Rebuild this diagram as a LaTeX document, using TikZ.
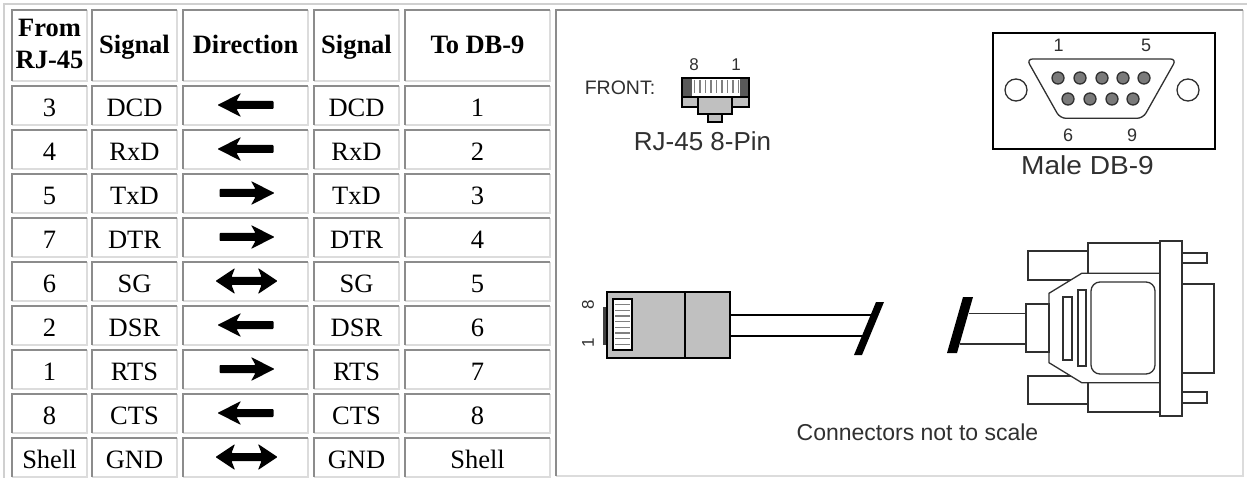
\documentclass[tikz,border=0pt]{standalone}
\usepackage{fontspec}
\setmainfont{Liberation Serif}
\newfontfamily\arialf{Liberation Sans}
\definecolor{cellgray}{HTML}{8C8C8C}
\definecolor{celllight}{HTML}{DCDCDC}
\definecolor{outerlight}{HTML}{D0D0D0}
\definecolor{rjgray}{HTML}{C0C0C0}
\definecolor{pingray}{HTML}{7A7A7A}
\definecolor{inkgray}{HTML}{303030}
\newcommand\cellbox[4]{%
  \draw[cellhi] (#1,#4) -- (#3,#4) -- (#3,#2);
  \draw[cellsh] (#1,#4) -- (#1,#2) -- (#3,#2);
}
\newcommand\tabrow[6]{%
  \pgfmathsetmacro\rt{86+44*(#1-1)}
  \pgfmathsetmacro\rb{\rt+39}
  \pgfmathsetmacro\rbase{\rt+30.5}
  \pgfmathsetmacro\rmid{\rt+19}
  \cellbox{12}{\rt}{87}{\rb}
  \cellbox{92}{\rt}{177}{\rb}
  \cellbox{183}{\rt}{308}{\rb}
  \cellbox{314}{\rt}{399}{\rb}
  \cellbox{405}{\rt}{550}{\rb}
  \node[tcell] (r#1c1) at (49.5,\rbase) {#2};
  \node[tcell] (r#1c2) at (134.5,\rbase) {#3};
  \node[tcell] (r#1c4) at (356.5,\rbase) {#5};
  \node[tcell] (r#1c5) at (477.5,\rbase) {#6};
  \coordinate (r#1al) at (218,\rmid);
  \pic at (r#1al) {#4};
}
\begin{document}
\begin{tikzpicture}[x=1pt,y=-1pt,
  cellsh/.style={draw=cellgray, line width=1.3pt},
  cellhi/.style={draw=celllight, line width=1.3pt},
  tcell/.style={font=\fontsize{26.5}{30}\selectfont, anchor=base, inner sep=0pt},
  thead/.style={font=\bfseries\fontsize{26.5}{31.6}\selectfont, anchor=base, inner sep=0pt, align=center},
  arrL/.pic={\fill[black, rounded corners=0.8pt] (-0.5,0) -- (23,-12) -- (18.5,-4) -- (55.5,-4) -- (55.5,4) -- (18.5,4) -- (23,12) -- cycle;},
  arrR/.pic={\fill[black, rounded corners=0.8pt] (56.5,0) -- (33,-12) -- (37.5,-4) -- (1.5,-4) -- (1.5,4) -- (37.5,4) -- (33,12) -- cycle;},
  arrB/.pic={\fill[black, rounded corners=0.8pt] (-2.5,0) -- (17,-13) -- (13.5,-4) -- (43.5,-4) -- (40,-13) -- (59.5,0) -- (40,13) -- (43.5,4) -- (13.5,4) -- (17,13) -- cycle;},
  lbl/.style={font=\arialf\fontsize{#1}{#1}\selectfont, text=inkgray, anchor=base, inner sep=0pt},
  ink/.style={draw=inkgray, line width=1.3pt},
  blk/.style={draw=black, line width=1.5pt}
]
\useasboundingbox (0,0) rectangle (1247,478);
\fill[white] (0,0) rectangle (1247,478);
% outer table border
\draw[draw=outerlight, line width=2pt] (4,478) -- (4,4) -- (1247,4);
% header
\cellbox{12}{10}{87}{81}
\cellbox{92}{10}{177}{81}
\cellbox{183}{10}{308}{81}
\cellbox{314}{10}{399}{81}
\cellbox{405}{10}{550}{81}
\node[thead] (h1a) at (49.5,36.7) {From};
\node[thead] (h1b) at (49.5,68.3) {RJ-45};
\node[thead] (h2) at (134.5,53.5) {Signal};
\node[thead] (h3) at (245.5,53.5) {Direction};
\node[thead] (h4) at (356.5,53.5) {Signal};
\node[thead] (h5) at (477.5,53.5) {To DB-9};
% rows
\tabrow{1}{3}{DCD}{arrL}{DCD}{1}
\tabrow{2}{4}{RxD}{arrL}{RxD}{2}
\tabrow{3}{5}{TxD}{arrR}{TxD}{3}
\tabrow{4}{7}{DTR}{arrR}{DTR}{4}
\tabrow{5}{6}{SG}{arrB}{SG}{5}
\tabrow{6}{2}{DSR}{arrL}{DSR}{6}
\tabrow{7}{1}{RTS}{arrR}{RTS}{7}
\tabrow{8}{8}{CTS}{arrL}{CTS}{8}
\tabrow{9}{Shell}{GND}{arrB}{GND}{Shell}
% image cell
\cellbox{556}{10}{1243}{476}

% ---- RJ-45 front view
\node[lbl=19.5] (front) at (620,95) {FRONT:};
\node[lbl=17] (f8) at (694,71) {8};
\node[lbl=17] (f1) at (736,71) {1};
\draw[blk, fill=white] (682,78) rectangle (749,97);
\fill[black!65] (682.8,78.8) rectangle (692,96.2);
\fill[black!65] (740,78.8) rectangle (748.2,96.2);
\foreach \k in {0,...,8} \draw[gray, line width=1.2pt] (694.5+\k*5.5,80) -- (694.5+\k*5.5,93);
\draw[blk] (682,78) rectangle (749,97);
\draw[blk, fill=rjgray] (708,114) rectangle (722,122);
\draw[blk, fill=rjgray] (682,97) rectangle (749,107);
\draw[blk, fill=rjgray] (698,97) rectangle (732,114);
\node[lbl=26] (rjname) at (702.5,151) {RJ-45 8-Pin};

% ---- DB-9 front view
\draw[draw=black, line width=1.6pt] (993,33) rectangle (1215,149);
\node[lbl=18] (d1) at (1058.5,52) {1};
\node[lbl=18] (d5) at (1146,52) {5};
\node[lbl=18] (d6) at (1068,142) {6};
\node[lbl=18] (d9) at (1132,142) {9};
\draw[ink, rounded corners=6pt] (1026.6,59) -- (1176.4,59) -- (1143,118.3) -- (1060,118.3) -- cycle;
\draw[ink] (1016,90) circle (11);
\draw[ink] (1188,90) circle (11);
\foreach \px in {1058,1080,1102,1123,1144} \draw[ink, fill=pingray] (\px,78) circle (6);
\foreach \px in {1068,1090,1112,1133} \draw[ink, fill=pingray] (\px,99) circle (6);
\node[lbl=26, xscale=1.08] (dbname) at (1087.5,175) {Male DB-9};

% ---- RJ-45 side view
\node[lbl=17, rotate=90, anchor=center] (s8) at (588,305) {8};
\node[lbl=17, rotate=90, anchor=center] (s1) at (588,343) {1};
\fill[black!75] (603,307) rectangle (607,345);
\draw[blk, fill=rjgray] (607,292) rectangle (730,358);
\draw[blk] (685,292) -- (685,358);
\draw[draw=black, line width=2.2pt, fill=white] (613,299) rectangle (632,350);
\foreach \k in {1,...,8} \draw[gray, line width=1.3pt] (615,299+\k*5.67) -- (630,299+\k*5.67);
\coordinate (cabA1) at (730,315);
\coordinate (cabA2) at (730,336);
\coordinate (cabB1) at (874.6,315);
\coordinate (cabB2) at (865.9,336);
\draw[blk, line width=1.4pt] (cabA1) -- (cabB1);
\draw[blk, line width=1.4pt] (cabA2) -- (cabB2);
\fill[black] (876,302) -- (884,302) -- (862,355) -- (854,355) -- cycle;

% ---- DB-9 side view
\fill[black] (963,297) -- (973,297) -- (957,353) -- (947,353) -- cycle;
\coordinate (cabC1) at (968.6,313.3);
\coordinate (cabC2) at (960,344);
\coordinate (cabD1) at (1026,313.3);
\coordinate (cabD2) at (1026,344);
\draw[ink] (cabC1) -- (cabD1);
\draw[ink] (cabC2) -- (cabD2);
\draw[ink, fill=white] (1028,251) rectangle (1088,280);
\draw[ink, fill=white] (1028,376) rectangle (1088,404);
\draw[ink, fill=white] (1088,243) rectangle (1160,273.3);
\draw[ink, fill=white] (1088,382.7) rectangle (1160,412);
\draw[ink, fill=white] (1049,293.3) -- (1081.7,273.3) -- (1160,273.3) -- (1160,382.7) -- (1081.7,382.7) -- (1049,362.7) -- cycle;
\draw[ink, fill=white] (1026,304) rectangle (1049,352);
\draw[ink] (1063,297) rectangle (1072,360);
\draw[ink] (1078,290) rectangle (1086,366);
\draw[ink, rounded corners=9pt] (1091,282) rectangle (1155,374);
\draw[ink, fill=white] (1182,284) rectangle (1214,373);
\draw[ink, fill=white] (1182,253) rectangle (1207,263);
\draw[ink, fill=white] (1182,392) rectangle (1207,403);
\draw[ink, fill=white] (1160,241) rectangle (1182,416);
\node[lbl=23] (note) at (917.5,440) {Connectors not to scale};
\end{tikzpicture}
\end{document}
